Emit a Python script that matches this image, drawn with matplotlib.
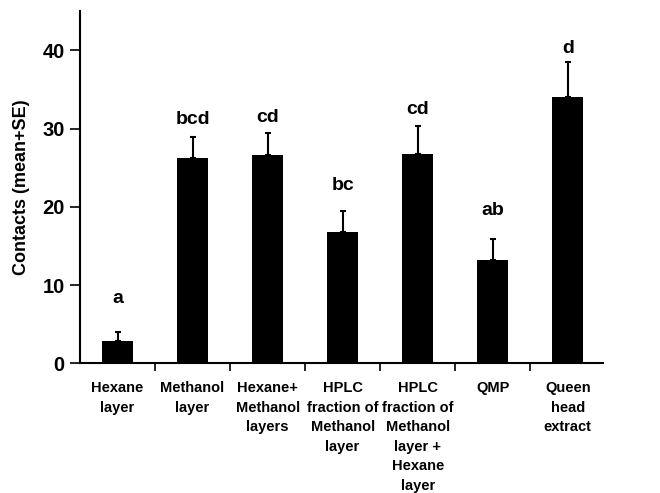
import numpy as np
import matplotlib
matplotlib.use('Agg')
import matplotlib.pyplot as plt

# Gegevens uit de figuur
categories = ["Hexane\nlayer", "Methanol\nlayer", "Hexane+\nMethanol\nlayers",
              "HPLC\nfraction of\nMethanol\nlayer",
              "HPLC\nfraction of\nMethanol\nlayer +\nHexane\nlayer",
              "QMP", "Queen\nhead\nextract"]
means = [2.85, 26.2, 26.6, 16.8, 26.7, 13.25, 34.1]
se = [1.1, 2.7, 2.85, 2.7, 3.6, 2.6, 4.4]
letters = ["a", "bcd", "cd", "bc", "cd", "ab", "d"]
letter_y = [7.7, 30.6, 30.8, 22.1, 31.9, 19.0, 39.7]

plt.rcParams['font.family'] = ['Liberation Sans', 'DejaVu Sans']
plt.rcParams['font.weight'] = 'bold'

fig = plt.figure(figsize=(6.6, 4.93), dpi=100)
ax = fig.add_axes([0.1212, 0.263, 0.7924, 0.714])

x = np.arange(len(categories))
ax.bar(x, means, width=0.41, color='black', zorder=2)
ax.errorbar(x, means, yerr=[np.zeros(len(se)), se], fmt='none',
            ecolor='black', elinewidth=1.5, capsize=2.2, capthick=1.5, zorder=1)

for xi, lab, ly in zip(x, letters, letter_y):
    ax.text(xi, ly, lab, ha='center', va='baseline', fontsize=14, fontweight='bold')

ax.set_xlim(-0.5, 6.47)
ax.set_ylim(0, 45)
ax.set_yticks([0, 10, 20, 30, 40])
ax.set_xticks(np.arange(len(categories) - 1) + 0.5)
ax.set_xticklabels([])
ax.set_xticks(x, minor=True)
ax.set_xticklabels(categories, minor=True, fontsize=10.5, fontweight='bold',
                   linespacing=1.5, va='top')
ax.tick_params(axis='x', which='minor', length=0, pad=13)
ax.tick_params(axis='x', which='major', length=6, width=1.2, direction='out')
ax.tick_params(axis='y', length=7, width=1.2, direction='out', labelsize=14.5, pad=4)
for t in ax.get_yticklabels():
    t.set_fontweight('bold')

ax.spines['top'].set_visible(False)
ax.spines['right'].set_visible(False)
ax.spines['left'].set_linewidth(1.5)
ax.spines['bottom'].set_linewidth(1.5)

ax.set_ylabel("Contacts (mean+SE)", fontsize=13, fontweight='bold', labelpad=9)

fig.savefig("out.png", dpi=100)
plt.close(fig)
